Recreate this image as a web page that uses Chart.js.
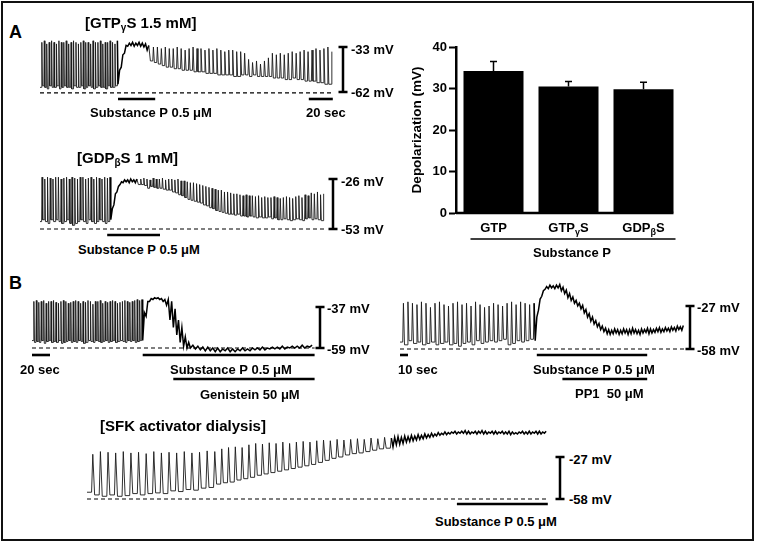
<!DOCTYPE html>
<html><head><meta charset="utf-8">
<script src="https://cdn.jsdelivr.net/npm/chart.js@4.4.1/dist/chart.umd.min.js"></script>
<style>
html,body{margin:0;padding:0;background:#fff;}
#page{position:relative;width:759px;height:548px;overflow:hidden;font-family:"Liberation Sans",Arial,sans-serif;font-weight:bold;color:#000;}
#frame{position:absolute;left:1px;top:1px;width:749px;height:536px;border:2px solid #111;}
canvas{position:absolute;}
.t{position:absolute;white-space:nowrap;line-height:1;transform:translateY(-50%);font-size:13px;}
.c{transform:translate(-50%,-50%);}
.t sub{font-size:9px;vertical-align:-3px;line-height:0;}
.big{font-size:15px;}
.big sub{font-size:10px;}
.let{font-size:18px;}
</style></head><body><div id="page">
<div id="frame"></div>
<canvas id="cA1"></canvas><canvas id="cA2"></canvas><canvas id="cB1"></canvas><canvas id="cB2"></canvas><canvas id="cB3"></canvas>
<canvas id="cBar" width="310" height="240" style="left:380px;top:30px;"></canvas>

<div class="t let" style="left:9px;top:32px">A</div>
<div class="t let" style="left:9px;top:283px">B</div>
<div class="t big" style="left:85px;top:22px">[GTP<sub>γ</sub>S 1.5 mM]</div>
<div class="t" style="left:351px;top:49px">-33 mV</div>
<div class="t" style="left:351px;top:92px">-62 mV</div>
<div class="t" style="left:90px;top:112px">Substance P 0.5 μM</div>
<div class="t" style="left:306px;top:112px">20 sec</div>
<div class="t big" style="left:77px;top:157px">[GDP<sub>β</sub>S 1 mM]</div>
<div class="t" style="left:341px;top:181px">-26 mV</div>
<div class="t" style="left:341px;top:229px">-53 mV</div>
<div class="t" style="left:78px;top:249px">Substance P 0.5 μM</div>
<div class="t" style="left:327px;top:308px">-37 mV</div>
<div class="t" style="left:327px;top:349px">-59 mV</div>
<div class="t" style="left:20px;top:369px">20 sec</div>
<div class="t" style="left:170px;top:369px">Substance P 0.5 μM</div>
<div class="t" style="left:200px;top:394px">Genistein 50 μM</div>
<div class="t" style="left:697px;top:307px">-27 mV</div>
<div class="t" style="left:697px;top:350px">-58 mV</div>
<div class="t" style="left:398px;top:369px">10 sec</div>
<div class="t" style="left:533px;top:369px">Substance P 0.5 μM</div>
<div class="t" style="left:575px;top:393px">PP1&nbsp;&nbsp;50 μM</div>
<div class="t big" style="left:100px;top:425px">[SFK activator dialysis]</div>
<div class="t" style="left:569px;top:459px">-27 mV</div>
<div class="t" style="left:569px;top:499px">-58 mV</div>
<div class="t" style="left:435px;top:521px">Substance P 0.5 μM</div>
<div class="t" style="left:572px;top:252px;transform:translate(-50%,-50%)">Substance P</div>
<div id="xl0" class="t c" style="top:227px"></div>
<div id="xl1" class="t c" style="top:227px"></div>
<div id="xl2" class="t c" style="top:227px"></div>

<script>
// ===== Bar chart data =====
const barNames = ['GTP', 'GTPγS', 'GDPβS'];
const barLabelParts = [['GTP', '', ''], ['GTP', 'γ', 'S'], ['GDP', 'β', 'S']];
const barMeans = [34.2, 30.5, 29.8];
const barErrors = [2.3, 1.2, 1.7];
const barTicks = [0, 10, 20, 30, 40];

// ===== Trace data (mV), per segment: troughs and peaks of each cycle =====
// segment = [start s, end s, 1 = action-potential firing / 0 = plateau noise]
// A: GTPγS 1.5 mM
const gtpSegs = [[0, 65, 1], [65, 92, 0], [92, 244, 1]];
const gtpPeaks = [
 [-30,-29,-31,-30,-29,-30,-31,-29,-30,-30,-29,-31,-30,-29,-30,-31,-30,-29,-30,-30,-31,-29,-30,-30,-29,-31,-30,-30,-29,-30,-31,-29],
 [-48,-38,-32,-30.5,-30,-30.5,-30,-30.5,-31,-32],
 [-33,-33,-34,-33,-34,-34,-33,-34,-35,-34, -33,-34,-34,-35,-34,-35,-34,-35,-36,-35, -35,-36,-36,-37,-41,-43,-42,-44,-42,-40, -37,-38,-37,-38,-37,-36,-37,-36,-35,-36, -35,-34,-35,-34,-33,-36]
];
const gtpTroughs = [
 [-59,-58,-59,-60,-58,-59,-59,-58,-60,-59,-58,-59,-59,-60,-58,-59,-59,-58,-60,-59,-58,-59,-60,-59,-58,-59,-59,-60,-58,-59,-59,-58],
 [-57,-46,-37,-32.5,-32,-32.5,-32,-32.5,-33,-35],
 [-42,-43,-44,-45,-46,-46,-47,-47,-48,-48, -48,-49,-49,-49,-50,-50,-50,-51,-51,-51, -51,-52,-52,-51,-51,-52,-51,-52,-52,-52, -52,-53,-53,-53,-54,-54,-53,-54,-54,-55, -55,-55,-56,-56,-57,-57]
];
const gtpBaseline = -62.5;
const gtpSP = [65, 96];
const gtpTimeBar = [224, 244];

// A: GDPβS 1 mM
const gdpSegs = [[0, 59, 1], [59, 82, 0], [82, 237, 1]];
const gdpPeaks = [
 [-25,-26,-25,-25.5,-26,-25,-25,-26,-25.5,-25,-26,-25,-25.5,-26,-25,-25,-26,-25.5,-25,-26,-25,-25.5,-26,-25,-25.5,-25],
 [-42,-34,-30,-27.5,-26.5,-26.5,-26,-26.5,-26],
 [-26,-25.5,-26,-26.5,-25.5,-26,-26,-25.5,-26.5,-26, -26,-26.5,-26,-27,-27,-27.5,-28,-28,-28.5,-29, -29.5,-30,-30.5,-31,-31.5,-32,-32,-33,-33,-33.5, -34,-34,-34.5,-35,-34.5,-35,-35,-35.5,-35,-36, -35.5,-36,-36,-35.5,-36,-36.5,-36,-35.5,-36,-36.5, -35.5,-35,-36,-34.5,-35,-33.5,-34,-33,-34.5,-34]
];
const gdpTroughs = [
 [-49,-48,-49,-50,-48,-49,-48,-49,-50,-49,-48,-50,-51,-50,-49,-48,-49,-50,-48,-49,-50,-49,-48,-49,-50,-49],
 [-48,-40,-33,-29,-28,-27.5,-28,-27.5,-28],
 [-29,-29,-29.5,-31,-30,-30.5,-31,-31,-31.5,-32, -32,-33,-33.5,-34.5,-35,-36,-37,-37.5,-38,-38.5, -39,-40,-40.5,-41.5,-42,-43,-43.5,-44,-44.5,-45, -45,-45.5,-45,-46,-46,-46.5,-46,-46.5,-47,-46.5, -47,-47,-46.5,-47.5,-47,-48,-48,-47.5,-48,-48.5, -48,-47.5,-48,-48.5,-47.5,-47,-48,-47.5,-48,-48.5]
];
const gdpBaseline = -53;
const gdpSP = [56, 100];

// B: Substance P + Genistein 50 μM
const genSegs = [[0, 123, 1], [123, 176, 0], [176, 314, 0]];
const genPeaks = [
 [-34,-33.5,-34.5,-34,-33.5, -35,-34,-34,-33.5,-34.5, -35,-34,-33.5,-34,-35, -34.5,-34,-33.5,-34,-35, -34,-34.5,-33.5,-34,-35.5, -34,-34,-33.5,-35,-34, -34.5,-34,-33.5,-34,-35, -34.5,-34,-33.5,-34,-34.5, -34,-33.5,-33,-33.5,-33],
 [-40,-34,-32.5,-32,-32,-32.5,-33,-33,-34,-38,-44,-48,-53,-56],
 [-57.5,-58,-58.5,-58.5,-59, -59,-59.5,-59,-59.5,-59.5, -59,-59.5,-59,-59,-58.5, -59,-58.5,-58.5,-58,-58.5, -58,-58,-57.5,-58,-57.5]
];
const genTroughs = [
 [-55,-56,-55.5,-56,-55, -56.5,-55.5,-55,-56,-55.5, -56,-55,-56.5,-56,-55.5, -55,-56,-55.5,-56,-55, -55.5,-56.5,-56,-55,-55.5, -56,-55,-55.5,-56,-55.5, -55,-56,-55.5,-55,-56, -55.5,-55,-55.5,-56,-55, -55.5,-55,-56,-55.5,-55],
 [-55,-42,-34,-33,-32.5,-33,-34,-36,-44,-48,-52,-56,-58,-59],
 [-59,-59.5,-60,-60.5,-60.5, -61,-61,-60.5,-61,-61, -60.5,-60.5,-60.5,-60,-60, -60,-59.5,-59.5,-59.5,-59.5, -59,-59,-59,-59,-58.5]
];
const genBaseline = -59;
const genSP = [123, 314];
const genDrug = [157, 314];
const genTimeBar = [0, 20];

// B: Substance P + PP1 50 μM
const pp1Segs = [[0, 169, 1], [169, 259, 0], [259, 356, 0]];
const pp1Peaks = [
 [-25,-24,-25,-26,-24, -25,-28,-25,-24,-26, -27,-25,-24,-26,-25, -27,-24,-26,-28,-27, -25,-26,-27,-25,-24, -26,-24,-25,-26,-25],
 [-35,-22,-16,-13,-12,-12.5,-12,-11.5,-13.5,-15.5,-18,-20.5,-23,-25,-26.5,-29.5,-32.5,-35,-37.5,-39.5,-41.5,-43],
 [-44,-44.5,-43.5,-44,-44.5, -43.5,-44,-44,-43,-44, -44.5,-43.5,-44,-43,-43.5, -44,-43,-42.5,-43.5,-42.5, -43,-42,-42.5,-41.5,-42, -41]
];
const pp1Troughs = [
 [-53,-55,-52,-54,-53, -55,-54,-53,-55,-54, -53,-55,-54,-56,-54, -53,-55,-52,-54,-53, -52,-53,-52,-51,-55, -54,-52,-53,-52,-51],
 [-52,-30,-20,-15,-14.5,-14,-14.5,-14,-16,-18,-21,-23,-25,-27,-29,-32,-35,-38,-40,-42,-44,-45.5],
 [-47,-47.5,-47,-46.5,-47.5, -47,-46.5,-47.5,-47,-46.5, -47,-47.5,-46.5,-46,-47, -46.5,-46,-45.5,-46,-45.5, -45,-45.5,-44.5,-45,-44, -44.5]
];
const pp1Baseline = -58;
const pp1SP = [171, 309];
const pp1Drug = [203, 309];
const pp1TimeBar = [0, 10];

// B: SFK activator dialysis
const sfkSegs = [[0, 144, 1], [144, 340, 1], [340, 407, 0], [407, 512, 0]];
const sfkPeaks = [
 [-25,-23,-23.5,-24,-23, -24,-23.5,-24.5,-23,-24, -23.5,-24,-23,-24,-23.5, -22.5,-23],
 [-21,-20,-19.5,-20,-18, -17,-17.5,-16.5,-17,-16, -17,-16,-15.5,-16,-15, -14.5,-15,-14,-14.5,-14, -13.5,-14,-13,-13.5,-12.5, -13],
 [-12.5,-12,-12.5,-11.5,-12,-11,-11.5,-10.5,-11,-10,-10.5,-9.5,-10,-9,-9.5,-8.5,-9,-8.5],
 [-8,-8.5,-8,-7.5,-8, -8.5,-8,-8,-7.5,-8, -8.5,-8,-8,-8.5,-8, -8.5,-8,-8.5,-9,-8.5, -8,-8.5,-8,-8.5,-8, -8,-8.5,-8]
];
const sfkTroughs = [
 [-53,-55,-56,-55,-56, -55.5,-54,-55,-54,-53.5, -54,-52,-52.5,-51,-51.5, -50,-49.5],
 [-47,-46,-45.5,-44,-43, -42,-40.5,-39.5,-38.5,-37.5, -36.5,-35.5,-34.5,-33.5,-32.5, -31,-29.5,-28,-27,-25.5, -24.5,-24,-23,-22,-21, -20.5],
 [-19.5,-18,-17.5,-17,-16,-15.5,-15,-14.5,-14,-13.5,-13,-12.5,-12,-11.5,-11,-10.5,-10.5,-10],
 [-9.5,-10,-9.5,-9.5,-10, -10,-9.5,-10,-9.5,-10, -10,-9.5,-10,-10,-9.5, -10,-10,-10.5,-10,-10, -9.5,-10,-10,-10,-9.5, -10,-10,-9.5]
];
const sfkBaseline = -58;
const sfkSP = [411, 512];

// ===== Drawing =====
const FONT = '"Liberation Sans", Arial, sans-serif';

const traceDeco = {
  id: 'traceDeco',
  afterDraw(chart, args, o) {
    const ctx = chart.ctx, xs = chart.scales.x, ys = chart.scales.y, L = o.layout;
    ctx.save();
    ctx.strokeStyle = '#000';
    ctx.lineWidth = 2.5;
    const bx = L.barX - L.left;
    const y1 = ys.getPixelForValue(L.cal[0]), y2 = ys.getPixelForValue(L.cal[2]);
    ctx.beginPath();
    ctx.moveTo(bx, y1); ctx.lineTo(bx, y2);
    ctx.moveTo(bx - 4.5, y1); ctx.lineTo(bx + 4.5, y1);
    ctx.moveTo(bx - 4.5, y2); ctx.lineTo(bx + 4.5, y2);
    ctx.stroke();
    ctx.lineWidth = 2.6;
    for (const b of o.bars) {
      const y = b.y - L.top;
      ctx.beginPath();
      ctx.moveTo(xs.getPixelForValue(b.t[0]), y);
      ctx.lineTo(xs.getPixelForValue(b.t[1]), y);
      ctx.stroke();
    }
    ctx.restore();
  }
};

function makeTrace(id, L, segs, peaks, troughs, baseline, dashEnd, bars) {
  const cv = document.getElementById(id);
  cv.width = L.w; cv.height = L.h;
  cv.style.left = L.left + 'px'; cv.style.top = L.top + 'px';
  const k = (L.cal[3] - L.cal[1]) / (L.cal[0] - L.cal[2]);
  const yMax = L.cal[0] + (L.cal[1] - L.top) / k;
  const yMin = L.cal[0] - (L.top + L.h - L.cal[1]) / k;
  const xMin = -(L.x0 - L.left) / L.pps, xMax = (L.left + L.w - L.x0) / L.pps;
  const pts = [];
  segs.forEach((s, si) => {
    const p = peaks[si], t = troughs[si], n = Math.min(p.length, t.length), dt = (s[1] - s[0]) / n;
    for (let i = 0; i < n; i++) {
      const t0 = s[0] + i * dt;
      if (s[2]) {
        // firing: after-hyperpolarisation trough, slow pacemaker phase, fast spike
        pts.push({x: t0, y: t[i], f: 1});
        pts.push({x: t0 + 0.6 * dt, y: t[i], f: 1});
        pts.push({x: t0 + 0.76 * dt, y: p[i], f: 1});
      } else {
        pts.push({x: t0, y: t[i], f: 0});
        pts.push({x: t0 + 0.5 * dt, y: p[i], f: 0});
      }
    }
  });
  new Chart(cv, {
    type: 'line',
    data: {datasets: [
      {data: pts, borderColor: '#1a1a1a', borderWidth: 0.9, pointRadius: 0, tension: 0,
       segment: {borderWidth: c => (pts[c.p1DataIndex].f ? 0.9 : 1.5), borderColor: c => (pts[c.p1DataIndex].f ? '#1a1a1a' : '#000')}},
      {data: [{x: 0, y: baseline}, {x: dashEnd, y: baseline}], borderColor: '#000', borderWidth: 1.2, borderDash: [4, 3], pointRadius: 0}
    ]},
    options: {
      responsive: false, animation: false, devicePixelRatio: 1,
      layout: {padding: 0},
      scales: {x: {type: 'linear', display: false, min: xMin, max: xMax}, y: {display: false, min: yMin, max: yMax}},
      plugins: {legend: {display: false}, tooltip: {enabled: false}, traceDeco: {layout: L, bars: bars}}
    },
    plugins: [traceDeco]
  });
}

makeTrace('cA1', {left: 36, top: 32, w: 320, h: 74, x0: 40, pps: 1.2, cal: [-33, 47, -62, 92], barX: 343},
  gtpSegs, gtpPeaks, gtpTroughs, gtpBaseline, 244, [{t: gtpSP, y: 99}, {t: gtpTimeBar, y: 99}]);
makeTrace('cA2', {left: 36, top: 166, w: 305, h: 74, x0: 40, pps: 1.2, cal: [-26, 179, -53, 229], barX: 333},
  gdpSegs, gdpPeaks, gdpTroughs, gdpBaseline, 237, [{t: gdpSP, y: 235}]);
makeTrace('cB1', {left: 24, top: 288, w: 305, h: 97, x0: 32, pps: 0.9, cal: [-37, 307, -59, 348], barX: 320},
  genSegs, genPeaks, genTroughs, genBaseline, 314, [{t: genSP, y: 355}, {t: genDrug, y: 379}, {t: genTimeBar, y: 355}]);
makeTrace('cB2', {left: 396, top: 278, w: 304, h: 107, x0: 400, pps: 0.8, cal: [-27, 306, -58, 349], barX: 690},
  pp1Segs, pp1Peaks, pp1Troughs, pp1Baseline, 362, [{t: pp1SP, y: 355}, {t: pp1Drug, y: 379}, {t: pp1TimeBar, y: 355}]);
makeTrace('cB3', {left: 83, top: 425, w: 485, h: 85, x0: 87, pps: 0.9, cal: [-27, 457, -58, 499], barX: 560},
  sfkSegs, sfkPeaks, sfkTroughs, sfkBaseline, 512, [{t: sfkSP, y: 504}]);

// ----- bar chart -----
const errPlugin = {
  id: 'errBars',
  afterDatasetsDraw(chart) {
    const ctx = chart.ctx, ys = chart.scales.y, ca = chart.chartArea;
    const meta = chart.getDatasetMeta(0);
    ctx.save();
    ctx.strokeStyle = '#000';
    ctx.lineWidth = 1.5;
    meta.data.forEach((el, i) => {
      const yt = ys.getPixelForValue(barMeans[i] + barErrors[i]);
      ctx.beginPath();
      ctx.moveTo(el.x, el.y); ctx.lineTo(el.x, yt);
      ctx.moveTo(el.x - 3.5, yt); ctx.lineTo(el.x + 3.5, yt);
      ctx.stroke();
    });
    const last = meta.data[meta.data.length - 1], first = meta.data[0];
    ctx.lineWidth = 2.5;
    ctx.beginPath();
    ctx.moveTo(ca.left, ca.bottom); ctx.lineTo(last.x + last.width / 2, ca.bottom);
    ctx.stroke();
    ctx.lineWidth = 1.5;
    ctx.beginPath();
    ctx.moveTo(first.x - first.width / 2 + 7, ca.bottom + 26);
    ctx.lineTo(last.x + last.width / 2 + 2, ca.bottom + 26);
    ctx.stroke();
    ctx.restore();
    meta.data.forEach((el, i) => {
      const d = document.getElementById('xl' + i);
      const p = barLabelParts[i];
      d.innerHTML = p[0] + (p[1] ? '<sub>' + p[1] + '</sub>' + p[2] : '');
      d.style.left = (380 + el.x) + 'px';
    });
  }
};

new Chart(document.getElementById('cBar'), {
  type: 'bar',
  data: {labels: barNames, datasets: [{data: barMeans, backgroundColor: '#000', borderWidth: 0, categoryPercentage: 1, barPercentage: 0.8}]},
  options: {
    responsive: false, animation: false, devicePixelRatio: 1,
    layout: {padding: {top: 17, right: 9, left: 29, bottom: 0}},
    plugins: {legend: {display: false}, tooltip: {enabled: false}},
    scales: {
      x: {grid: {display: false, drawTicks: false}, border: {display: false}, ticks: {display: false}, afterFit(s) { s.height = 57; }},
      y: {
        min: barTicks[0], max: barTicks[barTicks.length - 1],
        afterBuildTicks(s) { s.ticks = barTicks.map(v => ({value: v})); },
        ticks: {color: '#000', font: {family: FONT, weight: 'bold', size: 13}, padding: 2},
        grid: {drawOnChartArea: false, tickLength: 7, tickColor: '#000', tickWidth: 2},
        border: {color: '#000', width: 2.5},
        title: {display: true, text: 'Depolarization (mV)', color: '#000', font: {family: FONT, weight: 'bold', size: 13.5}, padding: {top: 0, bottom: 2}},
        afterFit(s) { s.width = 47; }
      }
    }
  },
  plugins: [errPlugin]
});
</script>
</div></body></html>
